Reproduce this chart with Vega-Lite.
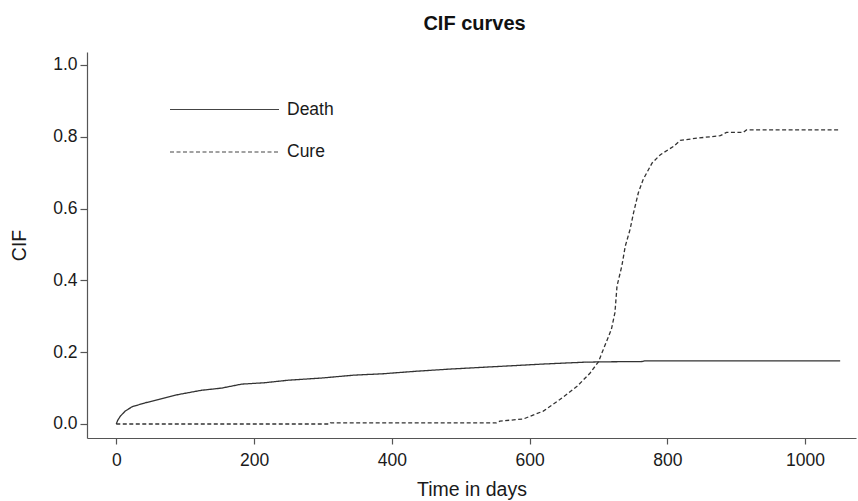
{
  "$schema": "https://vega.github.io/schema/vega-lite/v6.json",
  "autosize": {"type": "none"},
  "width": 769,
  "height": 386,
  "padding": {"left": 87, "top": 52, "right": 2, "bottom": 63},
  "background": "white",
  "config": {
    "view": {"stroke": null},
    "font": "Liberation Sans",
    "axis": {
      "grid": false,
      "domainColor": "#555555",
      "domainWidth": 1.2,
      "tickColor": "#555555",
      "tickWidth": 1.2,
      "labelColor": "#1a1a1a",
      "labelFont": "Liberation Sans",
      "labelFontSize": 17.5,
      "titleFont": "Liberation Sans",
      "titleFontSize": 19.5,
      "titleFontWeight": "normal",
      "titleColor": "#1a1a1a"
    }
  },
  "title": {
    "text": "CIF curves",
    "fontSize": 20,
    "fontWeight": "bold",
    "font": "Liberation Sans",
    "color": "#111111",
    "anchor": "middle",
    "baseline": "alphabetic",
    "offset": 2,
    "dx": 3
  },
  "data": {
    "values": [
      {"event": "Death", "day": 0, "cif": 0},
      {"event": "Death", "day": 2, "cif": 0.01},
      {"event": "Death", "day": 6, "cif": 0.022},
      {"event": "Death", "day": 13, "cif": 0.036},
      {"event": "Death", "day": 23, "cif": 0.048},
      {"event": "Death", "day": 42, "cif": 0.059},
      {"event": "Death", "day": 61, "cif": 0.068},
      {"event": "Death", "day": 90, "cif": 0.082},
      {"event": "Death", "day": 124, "cif": 0.094},
      {"event": "Death", "day": 153, "cif": 0.1},
      {"event": "Death", "day": 182, "cif": 0.111},
      {"event": "Death", "day": 216, "cif": 0.115},
      {"event": "Death", "day": 250, "cif": 0.122},
      {"event": "Death", "day": 298, "cif": 0.128},
      {"event": "Death", "day": 345, "cif": 0.136},
      {"event": "Death", "day": 388, "cif": 0.14},
      {"event": "Death", "day": 436, "cif": 0.147},
      {"event": "Death", "day": 485, "cif": 0.153},
      {"event": "Death", "day": 533, "cif": 0.158},
      {"event": "Death", "day": 582, "cif": 0.163},
      {"event": "Death", "day": 620, "cif": 0.167},
      {"event": "Death", "day": 678, "cif": 0.172},
      {"event": "Death", "day": 702, "cif": 0.173},
      {"event": "Death", "day": 763, "cif": 0.174},
      {"event": "Death", "day": 767, "cif": 0.176},
      {"event": "Death", "day": 1051, "cif": 0.176},
      {"event": "Cure", "day": 0, "cif": 0},
      {"event": "Cure", "day": 310, "cif": 0},
      {"event": "Cure", "day": 311, "cif": 0.003},
      {"event": "Cure", "day": 552, "cif": 0.003},
      {"event": "Cure", "day": 557, "cif": 0.008},
      {"event": "Cure", "day": 591, "cif": 0.014},
      {"event": "Cure", "day": 620, "cif": 0.036},
      {"event": "Cure", "day": 644, "cif": 0.068},
      {"event": "Cure", "day": 669, "cif": 0.105},
      {"event": "Cure", "day": 688, "cif": 0.142},
      {"event": "Cure", "day": 700, "cif": 0.173},
      {"event": "Cure", "day": 707, "cif": 0.207},
      {"event": "Cure", "day": 714, "cif": 0.24},
      {"event": "Cure", "day": 719, "cif": 0.265},
      {"event": "Cure", "day": 724, "cif": 0.31},
      {"event": "Cure", "day": 727, "cif": 0.384},
      {"event": "Cure", "day": 734, "cif": 0.44},
      {"event": "Cure", "day": 739, "cif": 0.495},
      {"event": "Cure", "day": 746, "cif": 0.542},
      {"event": "Cure", "day": 751, "cif": 0.588},
      {"event": "Cure", "day": 758, "cif": 0.644},
      {"event": "Cure", "day": 765, "cif": 0.681},
      {"event": "Cure", "day": 778, "cif": 0.727},
      {"event": "Cure", "day": 790, "cif": 0.75},
      {"event": "Cure", "day": 809, "cif": 0.773},
      {"event": "Cure", "day": 819, "cif": 0.79},
      {"event": "Cure", "day": 843, "cif": 0.796},
      {"event": "Cure", "day": 877, "cif": 0.803},
      {"event": "Cure", "day": 886, "cif": 0.812},
      {"event": "Cure", "day": 910, "cif": 0.812},
      {"event": "Cure", "day": 915, "cif": 0.819},
      {"event": "Cure", "day": 1051, "cif": 0.819}
    ]
  },
  "mark": {"type": "line", "color": "#333333", "strokeWidth": 1.3, "interpolate": "linear"},
  "encoding": {
    "x": {
      "field": "day",
      "type": "quantitative",
      "scale": {"domain": [-42.5, 1074], "nice": false, "zero": false},
      "axis": {
        "title": "Time in days",
        "values": [0, 200, 400, 600, 800, 1000],
        "format": "d",
        "tickSize": 6,
        "labelPadding": 7,
        "titlePadding": 12
      }
    },
    "y": {
      "field": "cif",
      "type": "quantitative",
      "scale": {"domain": [-0.039, 1.036], "nice": false, "zero": false},
      "axis": {
        "title": "CIF",
        "values": [0, 0.2, 0.4, 0.6, 0.8, 1.0],
        "format": ".1f",
        "tickSize": 7,
        "labelPadding": 3,
        "titlePadding": 23
      }
    },
    "strokeDash": {
      "field": "event",
      "type": "nominal",
      "scale": {"domain": ["Death", "Cure"], "range": [[1, 0], [4, 2.5]]},
      "legend": {
        "title": null,
        "orient": "none",
        "legendX": 82,
        "legendY": 47.5,
        "padding": 0,
        "symbolType": "stroke",
        "symbolSize": 11881,
        "symbolStrokeColor": "#444444",
        "symbolStrokeWidth": 1.2,
        "clipHeight": 20,
        "rowPadding": 22.5,
        "labelOffset": 7,
        "labelFont": "Liberation Sans",
        "labelFontSize": 17.5,
        "labelColor": "#1a1a1a",
        "labelLimit": 200
      }
    }
  }
}
